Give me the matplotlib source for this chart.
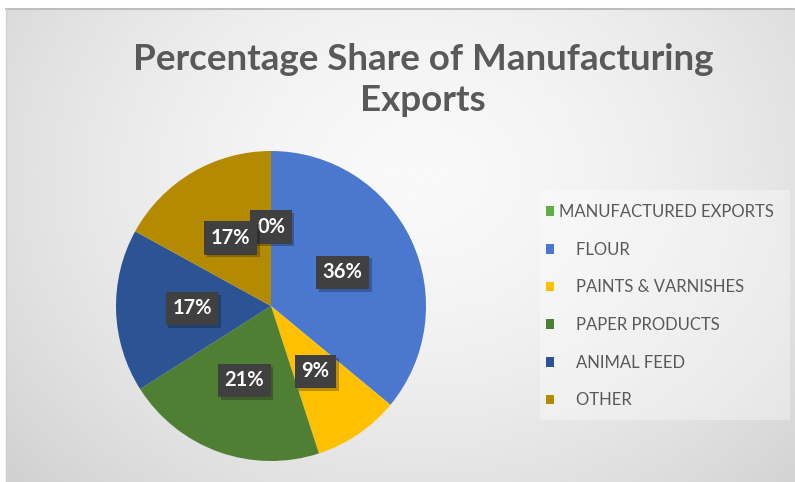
import numpy as np
import matplotlib
matplotlib.use("Agg")
import matplotlib.pyplot as plt
from matplotlib.patches import Rectangle
import matplotlib.patheffects as pe

# Data
categories = ["MANUFACTURED EXPORTS", "FLOUR", "PAINTS & VARNISHES",
              "PAPER PRODUCTS", "ANIMAL FEED", "OTHER"]
shares = [0, 36, 9, 21, 17, 17]
legend_labels = ["MANUFACTURED EXPORTS", "    FLOUR", "    PAINTS & VARNISHES",
                 "    PAPER PRODUCTS", "    ANIMAL FEED", "    OTHER"]
colors = ["#5FAE45", "#4A78CF", "#FFC000", "#4F7F33", "#2C5394", "#B48A00"]
title = "Percentage Share of Manufacturing\nExports"

W, H = 795, 482
fig = plt.figure(figsize=(W / 100, H / 100), dpi=100)
fig.patch.set_facecolor("white")

# Chart area with soft radial gradient
left_px, top_px = 6, 9
bg = fig.add_axes([left_px / W, 0, 1 - left_px / W, 1 - top_px / H])
ny, nx = 200, 330
yy, xx = np.mgrid[0:ny, 0:nx]
cx, cy = nx * 0.52, ny * 0.35
r = np.sqrt(((xx - cx) / (nx * 0.62)) ** 2 + ((yy - cy) / (ny * 0.85)) ** 2)
grad = np.clip(0.975 - 0.13 * r ** 1.6, 0.80, 1.0)
bg.imshow(grad, cmap="gray", vmin=0, vmax=1, aspect="auto",
          extent=[0, 1, 0, 1], interpolation="bicubic")
bg.set_xlim(0, 1)
bg.set_ylim(0, 1)
bg.axis("off")
bg.plot([0, 1], [1, 1], color="#BDBDBD", lw=1.5, transform=bg.transAxes, clip_on=False)
bg.plot([0, 0], [0, 1], color="#D0D0D0", lw=1.0, transform=bg.transAxes, clip_on=False)

# Title
fig.text(423 / W, 1 - 80 / H, title, ha="center", va="center",
         fontsize=26.5, fontweight="bold", family="Lato", color="#595959",
         linespacing=1.3)

# Legend backdrop
fig.patches.append(Rectangle((540 / W, 1 - 420 / H), 250 / W, 230 / H,
                             transform=fig.transFigure, facecolor="white",
                             alpha=0.35, edgecolor="none", zorder=0))

# Pie
cxp, cyp, rad = 271, 306, 155
ax = fig.add_axes([(cxp - rad) / W, (H - cyp - rad) / H, 2 * rad / W, 2 * rad / H])
wedges, _ = ax.pie(shares, colors=colors, startangle=90, counterclock=False,
                   radius=1, wedgeprops=dict(linewidth=0))
ax.set_xlim(-1, 1)
ax.set_ylim(-1, 1)
ax.set_aspect("equal")
ax.axis("off")

# Data labels in dark boxes with a soft drop shadow
total = sum(shares)
cum = 0
for val in shares:
    mid = 90 - 360 * (cum + val / 2) / total
    cum += val
    th = np.deg2rad(mid)
    x, y = 0.51 * np.cos(th), 0.51 * np.sin(th)
    t = ax.text(x, y, f"{val}%", ha="center", va="center", fontsize=14.5,
                fontweight="bold", family="Lato", color="white",
                bbox=dict(boxstyle="square,pad=0.33", facecolor="#404040",
                          edgecolor="none"))
    t.get_bbox_patch().set_path_effects([
        pe.SimplePatchShadow(offset=(2, -2), shadow_rgbFace="black", alpha=0.25),
        pe.Normal()])

# Legend
leg = fig.legend(wedges, legend_labels, loc="upper left",
                 bbox_to_anchor=(546 / W, 1 - 204 / H),
                 frameon=False, handlelength=0.5, handleheight=0.5,
                 handletextpad=0.3, labelspacing=1.3, borderaxespad=0,
                 borderpad=0, prop=dict(family="Lato", size=12))
for t in leg.get_texts():
    t.set_color("#595959")

fig.savefig("out.png", dpi=100, facecolor=fig.get_facecolor())
